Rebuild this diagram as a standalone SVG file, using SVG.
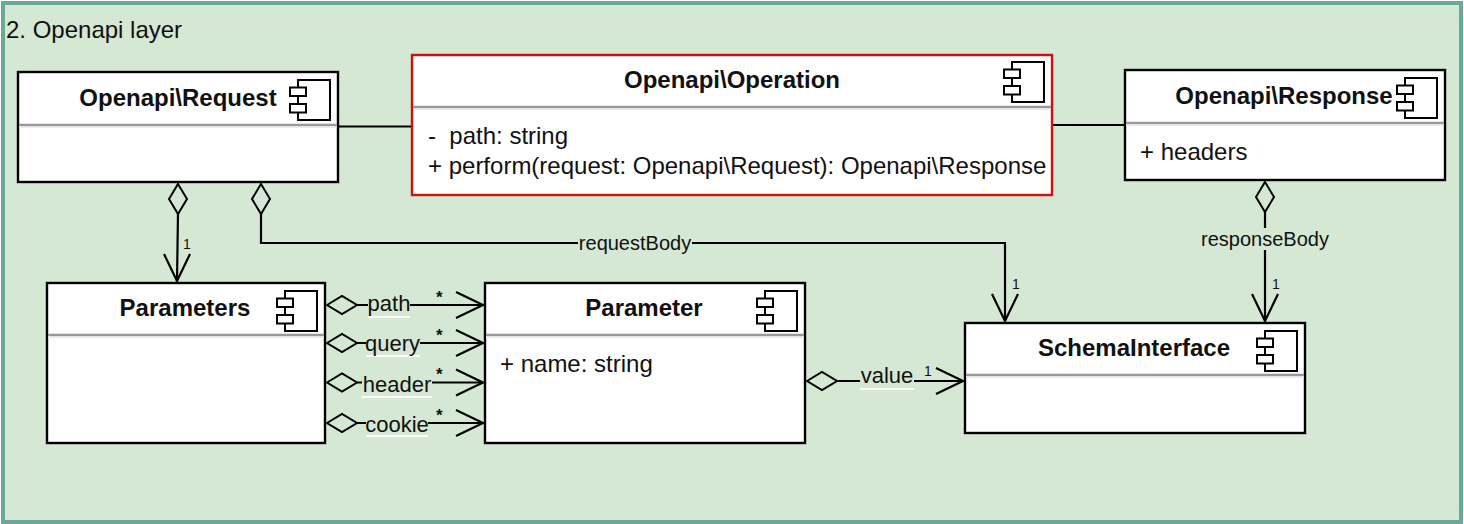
<svg xmlns="http://www.w3.org/2000/svg" width="1464" height="524" viewBox="0 0 1464 524">
<style>
text{font-family:"Liberation Sans",Arial,sans-serif;fill:#111}
.box{fill:#fff;stroke:#000;stroke-width:2.4}
.op{stroke:#d01010}
.div{stroke:#999;stroke-width:2.4;fill:none}
.div2{stroke:#e4e4e4;stroke-width:1.500;fill:none}
.title{font-weight:bold;font-size:24px;text-anchor:middle}
.attr{font-size:24px}
.lab{font-size:22px;text-anchor:middle}
.lab2{font-size:20px;text-anchor:middle}
.mult{font-size:14px}
.star{font-size:17px;font-weight:bold}
.ic{fill:#fff;stroke:#000;stroke-width:2}
.ln{fill:none;stroke:#000;stroke-width:2.2}
.dia{fill:none;stroke:#000;stroke-width:2}
.ul{stroke:#fff;stroke-width:2;fill:none}
</style>
<defs>
<g id="icon">
<rect class="ic" x="8" y="0" width="32" height="40"/>
<rect class="ic" x="0" y="7.500" width="16" height="8.500"/>
<rect class="ic" x="0" y="24" width="16" height="8.500"/>
</g>
<path id="dh" class="dia" d="M0 0L15 -9L30 0L15 9Z"/>
<path id="dv" class="dia" d="M0 0L9 15L0 30L-9 15Z"/>
<path id="ar" class="ln" d="M-27 -13L0 0L-27 13"/>
<path id="ad" class="ln" d="M-13 -27L0 0L13 -27"/>
</defs>
<rect id="frame" x="3" y="3" width="1458" height="519" fill="#d5e8d4" stroke="#6aa89a" stroke-width="4"/>
<text id="frame-title" x="6" y="38" style="font-size:24px">2. Openapi layer</text>

<g id="connectors">
<path class="ln" d="M338 126.500H412"/>
<path class="ln" d="M1052 125H1125"/>
<path class="ln" d="M178 213L177 281"/><use href="#dv" x="178" y="184"/><use href="#ad" x="177" y="281"/>
<path class="ln" d="M261 213V243H1005V321"/><use href="#dv" x="261" y="184"/><use href="#ad" x="1005" y="321"/>
<path class="ln" d="M1265 211V321"/><use href="#dv" x="1265" y="182"/><use href="#ad" x="1265" y="321"/>
<path class="ln" d="M357 305H483"/><use href="#dh" x="327" y="305"/><use href="#ar" x="483" y="305"/>
<path class="ln" d="M357 343H483"/><use href="#dh" x="327" y="343"/><use href="#ar" x="483" y="343"/>
<path class="ln" d="M357 382.500H483"/><use href="#dh" x="327" y="382.500"/><use href="#ar" x="483" y="382.500"/>
<path class="ln" d="M357 423H483"/><use href="#dh" x="327" y="423"/><use href="#ar" x="483" y="423"/>
<path class="ln" d="M837 381H963"/><use href="#dh" x="807" y="381"/><use href="#ar" x="963" y="381"/>

<rect x="368" y="293" width="42" height="24" fill="#d5e8d4"/>
<rect x="366" y="332" width="54" height="24" fill="#d5e8d4"/>
<rect x="362" y="371" width="70" height="24" fill="#d5e8d4"/>
<rect x="366" y="412" width="62" height="24" fill="#d5e8d4"/>
<rect x="860" y="368" width="54" height="22" fill="#d5e8d4"/>
<rect x="578" y="234" width="114" height="20" fill="#d5e8d4"/>
<rect x="1201" y="228" width="128" height="22" fill="#d5e8d4"/>
<path class="ul" d="M368 317H410M366 356H420M362 397H432M366 436H428M860 389H914"/>
<text class="lab" x="389" y="311">path</text>
<text class="lab" x="392.500" y="351">query</text>
<text class="lab" x="397" y="392">header</text>
<text class="lab" x="397" y="432">cookie</text>
<text class="lab" x="887" y="383">value</text>
<text class="lab2" x="635" y="250">requestBody</text>
<text class="lab2" x="1265" y="246">responseBody</text>
<text class="mult" x="183" y="249">1</text>
<text class="mult" x="1012" y="289">1</text>
<text class="mult" x="1272" y="289">1</text>
<text class="mult" x="924" y="376">1</text>
<text class="star" x="436" y="303">*</text>
<text class="star" x="436" y="341">*</text>
<text class="star" x="436" y="380">*</text>
<text class="star" x="436" y="421">*</text>
</g>

<g id="request">
<rect class="box" x="18" y="72" width="320" height="110"/>
<path class="div" d="M19 125H337"/><path class="div2" d="M19 127H337"/>
<text class="title" x="178" y="106">Openapi\Request</text>
<use href="#icon" x="290" y="80"/>
</g>
<g id="operation">
<rect class="box op" x="412" y="55" width="640" height="140"/>
<path class="div" d="M413 107H1051"/><path class="div2" d="M413 109H1051"/>
<text class="title" x="732" y="88">Openapi\Operation</text>
<use href="#icon" x="1004" y="62"/>
<text class="attr" x="428" y="144" xml:space="preserve">-  path: string</text>
<text class="attr" x="428" y="174">+ perform(request: Openapi\Request): Openapi\Response</text>
</g>
<g id="response">
<rect class="box" x="1125" y="70" width="320" height="110"/>
<path class="div" d="M1126 123H1444"/><path class="div2" d="M1126 125H1444"/>
<text class="title" x="1284" y="104">Openapi\Response</text>
<use href="#icon" x="1397" y="78"/>
<text class="attr" x="1140" y="160">+ headers</text>
</g>
<g id="parameters">
<rect class="box" x="47" y="283" width="278" height="160"/>
<path class="div" d="M48 335H324"/><path class="div2" d="M48 337H324"/>
<text class="title" x="185" y="316">Parameters</text>
<use href="#icon" x="277" y="291"/>
</g>
<g id="parameter">
<rect class="box" x="485" y="283" width="320" height="160"/>
<path class="div" d="M486 335H804"/><path class="div2" d="M486 337H804"/>
<text class="title" x="644" y="316">Parameter</text>
<use href="#icon" x="757" y="291"/>
<text class="attr" x="500" y="372">+ name: string</text>
</g>
<g id="schema">
<rect class="box" x="965" y="323" width="340" height="110"/>
<path class="div" d="M966 375H1304"/><path class="div2" d="M966 377H1304"/>
<text class="title" x="1134" y="356">SchemaInterface</text>
<use href="#icon" x="1257" y="331"/>
</g>
</svg>
